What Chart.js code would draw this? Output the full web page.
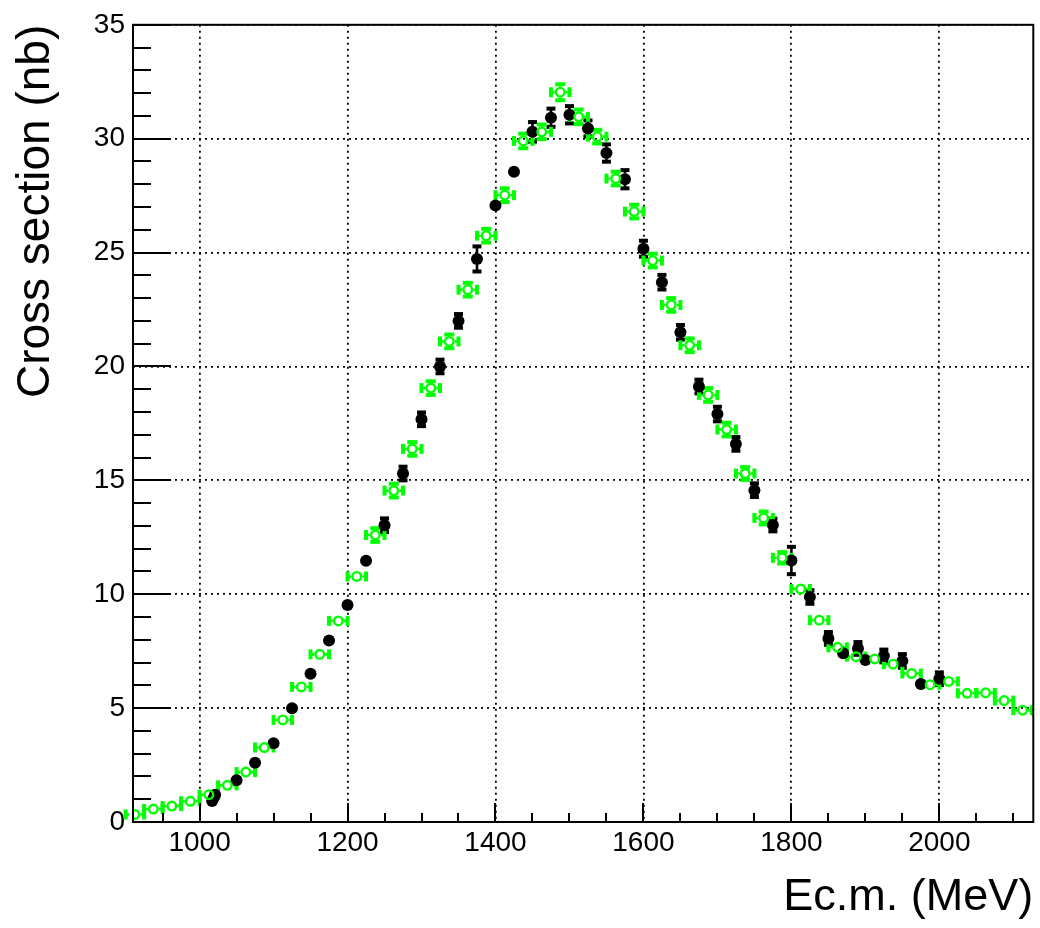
<!DOCTYPE html>
<html>
<head>
<meta charset="utf-8">
<script src="https://cdn.jsdelivr.net/npm/chart.js@4/dist/chart.umd.min.js"></script>
<style>
  body { margin: 0; background: #fff; }
  canvas { display: block; }
</style>
</head>
<body>
<canvas id="xsec" width="1040" height="928"></canvas>
<script>
// black points (filled circles)
const blackE = [1017, 1019, 1021, 1050, 1075, 1100, 1125, 1150, 1175, 1200,
  1225, 1250, 1275, 1300, 1325, 1350, 1375, 1400, 1425, 1450,
  1475, 1500, 1525, 1550, 1575, 1600, 1625, 1650, 1675, 1700,
  1725, 1750, 1775, 1800, 1825, 1850, 1870, 1890, 1900, 1925,
  1950, 1975, 2000];
const blackXs = [0.92, 1.05, 1.2, 1.83, 2.6, 3.46, 4.99, 6.51, 7.97, 9.53,
  11.47, 13.03, 15.3, 17.68, 20.0, 22.0, 24.72, 27.07, 28.55, 30.3,
  30.92, 31.05, 30.45, 29.37, 28.22, 25.17, 23.7, 21.5, 19.12, 17.91,
  16.6, 14.57, 13.04, 11.48, 9.88, 8.06, 7.41, 7.62, 7.11, 7.29,
  7.07, 6.06, 6.29];
const blackErr = [0.1, 0.1, 0.1, 0.1, 0.1, 0.1, 0.1, 0.1, 0.1, 0.1,
  0.15, 0.3, 0.3, 0.3, 0.3, 0.3, 0.55, 0.2, 0.2, 0.43,
  0.4, 0.38, 0.35, 0.38, 0.4, 0.35, 0.32, 0.32, 0.3, 0.32,
  0.3, 0.3, 0.28, 0.6, 0.3, 0.28, 0.2, 0.28, 0.2, 0.28,
  0.3, 0.15, 0.28];

// green points (open circles, with energy bin width)
const greenE = [912.5, 937.5, 962.5, 987.5, 1012.5, 1037.5, 1062.5, 1087.5, 1112.5, 1137.5,
  1162.5, 1187.5, 1212.5, 1237.5, 1262.5, 1287.5, 1312.5, 1337.5, 1362.5, 1387.5,
  1412.5, 1437.5, 1462.5, 1487.5, 1512.5, 1537.5, 1562.5, 1587.5, 1612.5, 1637.5,
  1662.5, 1687.5, 1712.5, 1737.5, 1762.5, 1787.5, 1812.5, 1837.5, 1862.5, 1887.5,
  1912.5, 1937.5, 1962.5, 1987.5, 2012.5, 2037.5, 2062.5, 2087.5, 2112.5];
const greenXs = [0.33, 0.57, 0.7, 0.91, 1.2, 1.61, 2.19, 3.27, 4.48, 5.93,
  7.36, 8.83, 10.78, 12.6, 14.55, 16.38, 19.05, 21.1, 23.37, 25.74,
  27.52, 29.9, 30.3, 32.04, 30.96, 30.09, 28.25, 26.8, 24.65, 22.7,
  20.93, 18.75, 17.23, 15.3, 13.35, 11.6, 10.23, 8.86, 7.67, 7.26,
  7.16, 6.93, 6.52, 6.03, 6.17, 5.65, 5.67, 5.33, 4.91];
const greenErr = [0.1, 0.1, 0.1, 0.1, 0.1, 0.1, 0.1, 0.1, 0.1, 0.1,
  0.1, 0.1, 0.15, 0.3, 0.3, 0.3, 0.3, 0.3, 0.3, 0.3,
  0.3, 0.32, 0.32, 0.35, 0.32, 0.3, 0.3, 0.3, 0.3, 0.3,
  0.3, 0.3, 0.3, 0.28, 0.28, 0.25, 0.15, 0.15, 0.15, 0.15,
  0.15, 0.15, 0.15, 0.15, 0.15, 0.15, 0.15, 0.15, 0.15];
const greenHalfBin = 12.5;

const xTicks = [1000, 1200, 1400, 1600, 1800, 2000];
const yTicks = [0, 5, 10, 15, 20, 25, 30, 35];

const FONT = '"Liberation Sans", Arial, Helvetica, sans-serif';
const GREEN = '#00ff00';
const BLACK_R = 6;
const GREEN_R = 4.3;
const GREEN_W = 2.4;

// error bars, drawn under the markers
const errorBars = {
    id: 'errorBars',
    beforeDatasetsDraw(chart) {
        const { ctx, scales: { x, y } } = chart;
        ctx.save();
        ctx.lineWidth = 2.6;

        // black: vertical only
        ctx.strokeStyle = '#000';
        ctx.fillStyle = '#000';
        blackE.forEach((e, i) => {
            const cx = x.getPixelForValue(e);
            const cy = y.getPixelForValue(blackXs[i]);
            const top = y.getPixelForValue(blackXs[i] + blackErr[i]);
            const bot = y.getPixelForValue(blackXs[i] - blackErr[i]);
            vBar(ctx, cx, cy, top, bot, BLACK_R - 0.5, 9, 4);
        });

        // green: horizontal bin + vertical
        const gr = GREEN_R + GREEN_W / 2;
        ctx.strokeStyle = GREEN;
        ctx.fillStyle = GREEN;
        greenE.forEach((e, i) => {
            const cx = x.getPixelForValue(e);
            const cy = y.getPixelForValue(greenXs[i]);
            const top = y.getPixelForValue(greenXs[i] + greenErr[i]);
            const bot = y.getPixelForValue(greenXs[i] - greenErr[i]);
            vBar(ctx, cx, cy, top, bot, gr, 10, 4);
            const l = x.getPixelForValue(e - greenHalfBin);
            const r = x.getPixelForValue(e + greenHalfBin);
            ctx.beginPath();
            ctx.moveTo(l, cy); ctx.lineTo(cx - gr, cy);
            ctx.moveTo(cx + gr, cy); ctx.lineTo(r, cy);
            ctx.stroke();
            ctx.fillRect(l - 2, cy - 5, 4, 10);
            ctx.fillRect(r - 2, cy - 5, 4, 10);
        });
        ctx.restore();
    }
};

function vBar(ctx, cx, cy, top, bot, rad, capW, capH) {
    if (cy - top <= rad) return;
    ctx.beginPath();
    ctx.moveTo(cx, cy - rad); ctx.lineTo(cx, top);
    ctx.moveTo(cx, cy + rad); ctx.lineTo(cx, bot);
    ctx.stroke();
    ctx.fillRect(cx - capW / 2, top - capH / 2, capW, capH);
    ctx.fillRect(cx - capW / 2, bot - capH / 2, capW, capH);
}

// frame and inward ticks (ROOT style)
const frame = {
    id: 'frame',
    afterDraw(chart) {
        const { ctx, chartArea: a, scales: { x, y } } = chart;
        ctx.save();
        ctx.strokeStyle = '#000';
        ctx.lineWidth = 2;
        ctx.beginPath();
        for (let v = 0; v <= 35; v++) {
            const py = Math.round(y.getPixelForValue(v));
            const len = v % 5 === 0 ? 38 : 18;
            ctx.moveTo(a.left, py); ctx.lineTo(a.left + len, py);
        }
        for (let v = 950; v <= 2127; v += 50) {
            const px = Math.round(x.getPixelForValue(v));
            const len = v % 200 === 0 ? 19 : 9;
            ctx.moveTo(px, a.bottom); ctx.lineTo(px, a.bottom - len);
        }
        ctx.stroke();
        ctx.strokeRect(a.left, a.top, a.right - a.left, a.bottom - a.top);
        ctx.restore();
    }
};

new Chart(document.getElementById('xsec'), {
    type: 'scatter',
    data: {
        datasets: [
            {
                label: 'green',
                data: greenE.map((e, i) => ({ x: e, y: greenXs[i] })),
                pointRadius: GREEN_R,
                borderWidth: GREEN_W,
                borderColor: GREEN,
                backgroundColor: 'rgba(0,0,0,0)',
                order: 0
            },
            {
                label: 'black',
                data: blackE.map((e, i) => ({ x: e, y: blackXs[i] })),
                pointRadius: BLACK_R,
                borderWidth: 0,
                borderColor: '#000',
                backgroundColor: '#000',
                order: 1
            }
        ]
    },
    options: {
        responsive: false,
        animation: false,
        events: [],
        layout: { padding: { top: 17, right: 5, left: 0, bottom: 0 } },
        plugins: { legend: { display: false }, tooltip: { enabled: false } },
        scales: {
            x: {
                type: 'linear',
                min: 910,
                max: 2127,
                afterBuildTicks: s => { s.ticks = xTicks.map(v => ({ value: v })); },
                afterFit: s => { s.height = 106; },
                ticks: {
                    autoSkip: false, maxRotation: 0, padding: 4, color: '#000',
                    font: { family: FONT, size: 28 },
                    callback: v => String(v)
                },
                grid: { color: '#000', lineWidth: 1.8, drawTicks: false },
                border: { display: false, dash: [2, 4] },
                title: {
                    display: true, text: 'Ec.m. (MeV)', align: 'end', color: '#000',
                    font: { family: FONT, size: 45 }, padding: { top: 0, bottom: 3 }
                }
            },
            y: {
                min: 0,
                max: 35,
                afterBuildTicks: s => { s.ticks = yTicks.map(v => ({ value: v })); },
                afterFit: s => { s.width = 133; },
                ticks: {
                    autoSkip: false, padding: 8, color: '#000',
                    font: { family: FONT, size: 28 },
                    callback: v => String(v)
                },
                grid: { color: '#000', lineWidth: 1.8, drawTicks: false },
                border: { display: false, dash: [2, 4] },
                title: {
                    display: true, text: 'Cross section (nb)', align: 'end', color: '#000',
                    font: { family: FONT, size: 46 }, padding: { top: 9, bottom: 0 }
                }
            }
        }
    },
    plugins: [errorBars, frame]
});
</script>
</body>
</html>
